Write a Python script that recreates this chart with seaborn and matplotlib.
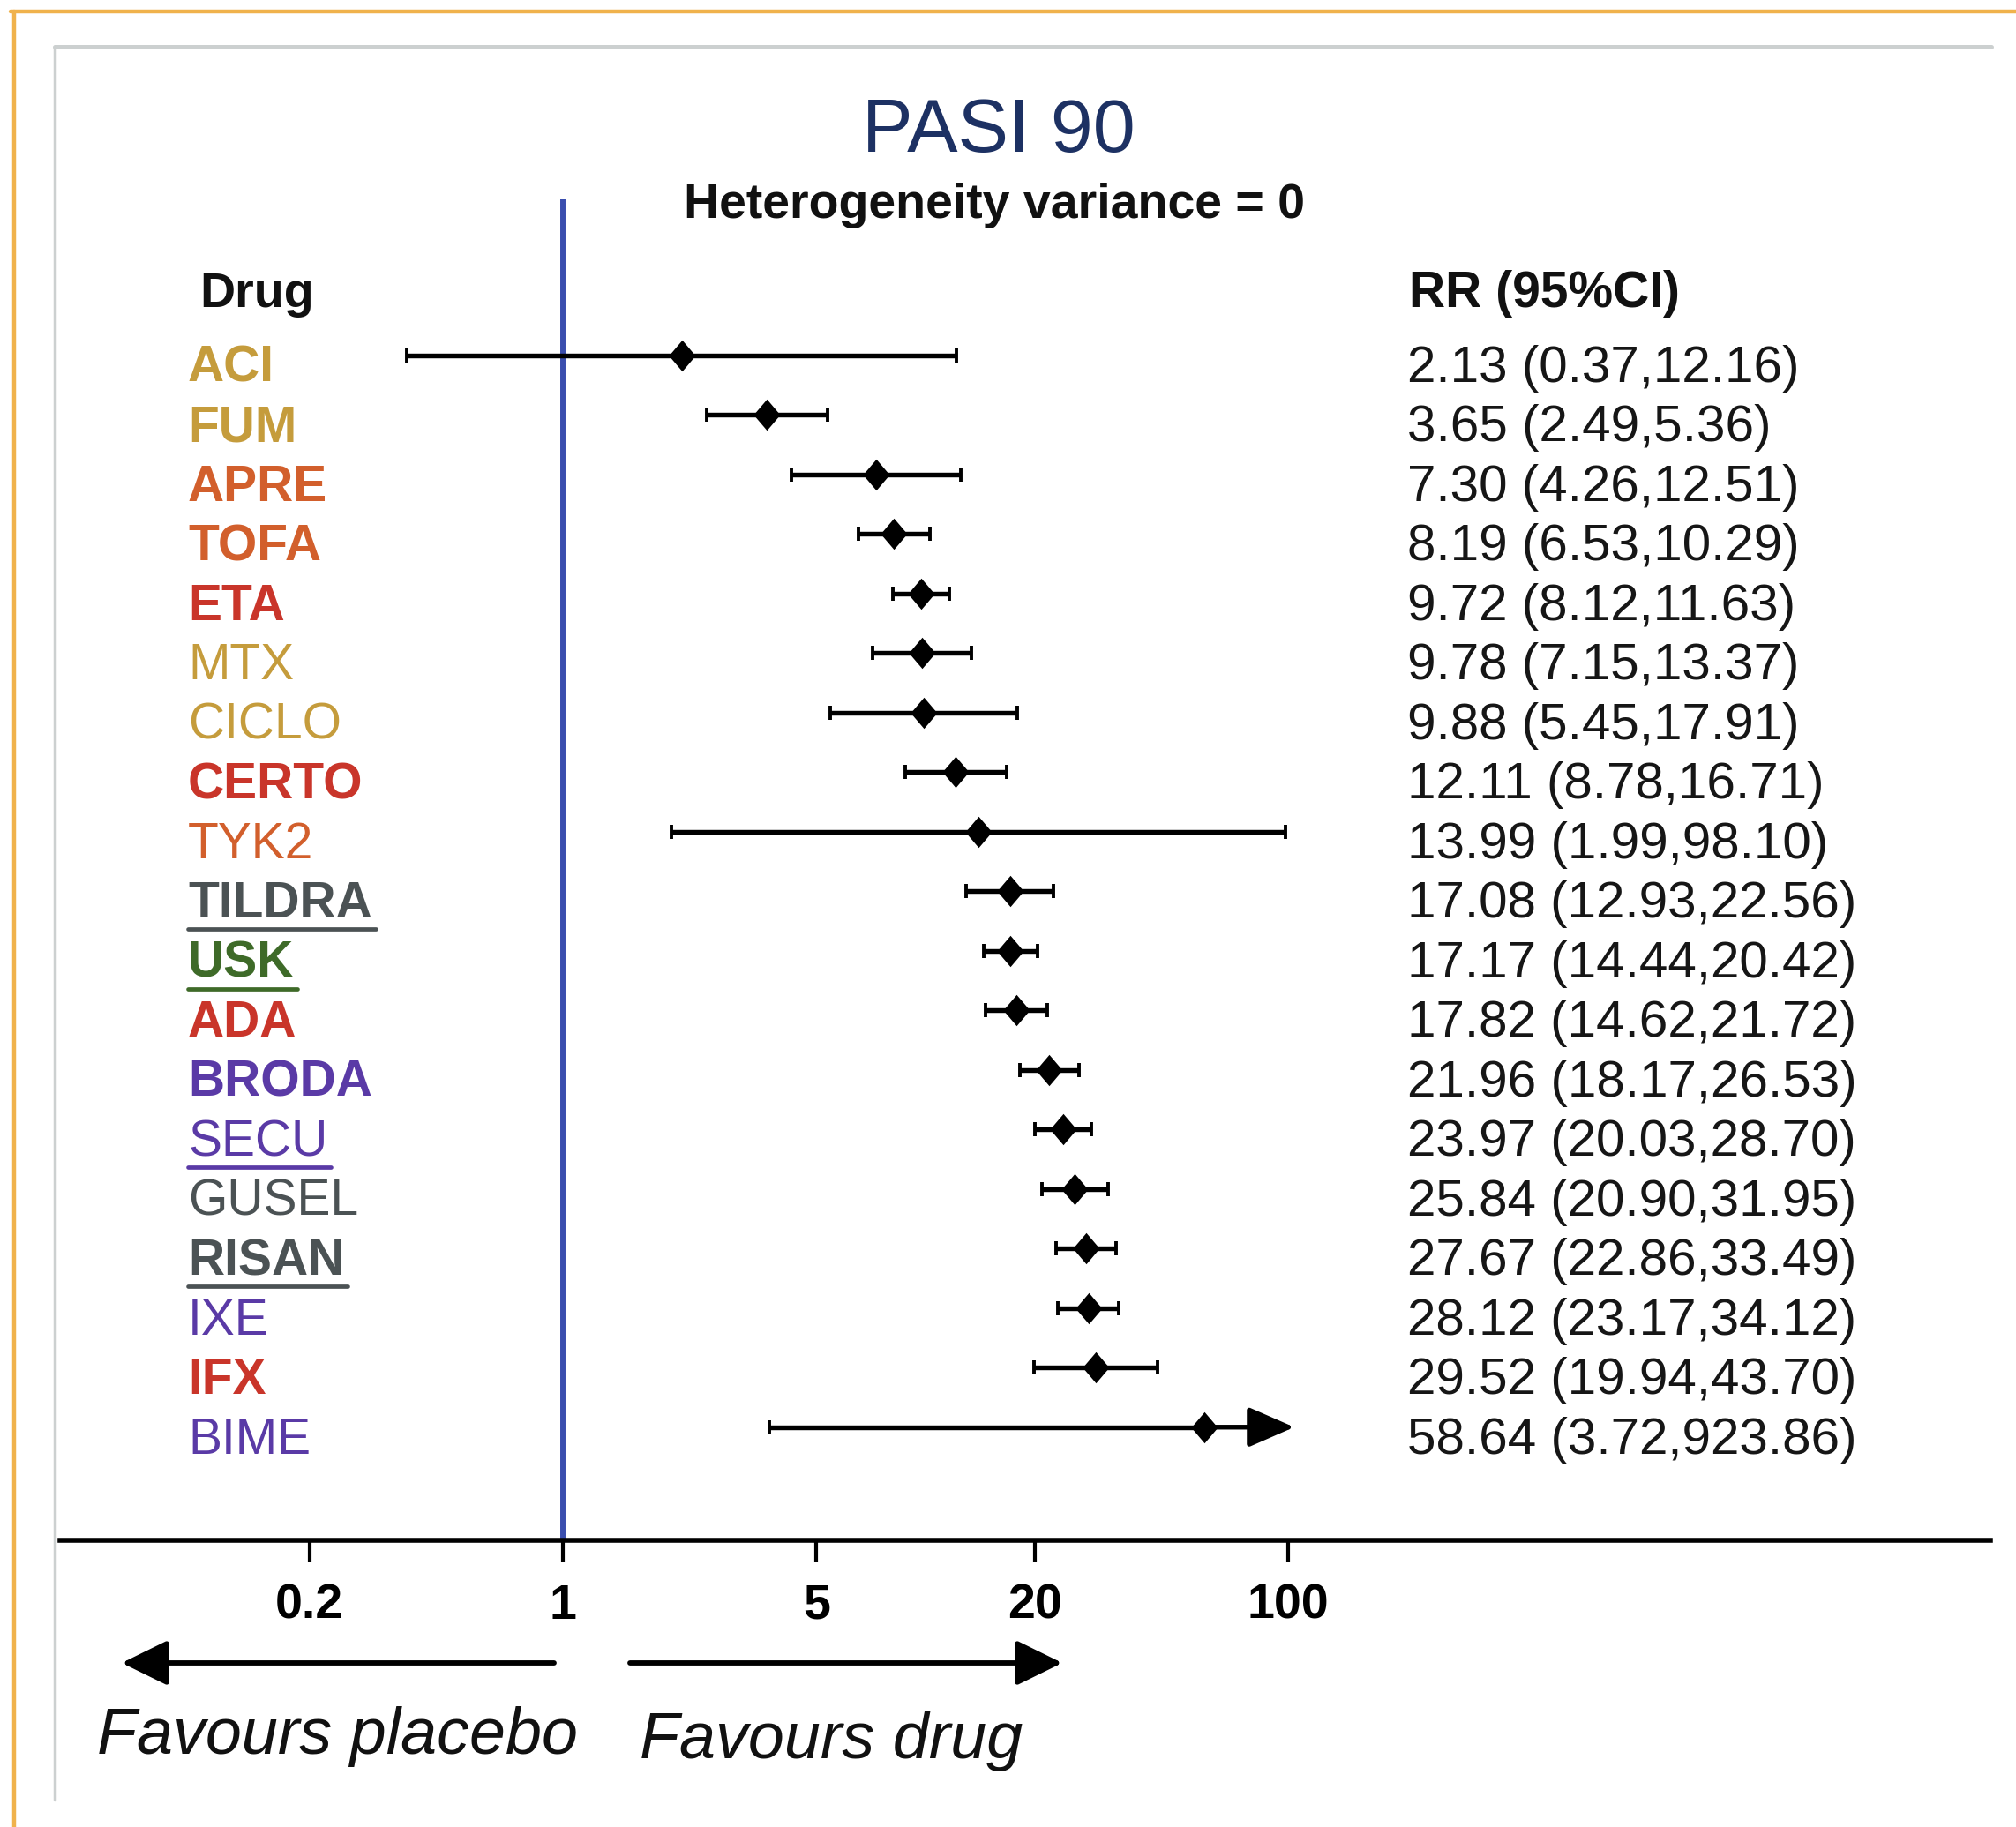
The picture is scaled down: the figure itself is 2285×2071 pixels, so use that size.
import matplotlib
matplotlib.use("Agg")
import matplotlib.pyplot as plt
import seaborn as sns
import numpy as np
import pandas as pd
from matplotlib.lines import Line2D
from matplotlib.path import Path
from matplotlib.ticker import NullLocator
from matplotlib.transforms import blended_transform_factory

# ---------------- data ----------------
drugs = ["ACI", "FUM", "APRE", "TOFA", "ETA", "MTX", "CICLO", "CERTO", "TYK2",
         "TILDRA", "USK", "ADA", "BRODA", "SECU", "GUSEL", "RISAN", "IXE", "IFX", "BIME"]
rr = [2.13, 3.65, 7.30, 8.19, 9.72, 9.78, 9.88, 12.11, 13.99,
      17.08, 17.17, 17.82, 21.96, 23.97, 25.84, 27.67, 28.12, 29.52, 58.64]
ci_low = [0.37, 2.49, 4.26, 6.53, 8.12, 7.15, 5.45, 8.78, 1.99,
          12.93, 14.44, 14.62, 18.17, 20.03, 20.90, 22.86, 23.17, 19.94, 3.72]
ci_high = [12.16, 5.36, 12.51, 10.29, 11.63, 13.37, 17.91, 16.71, 98.10,
           22.56, 20.42, 21.72, 26.53, 28.70, 31.95, 33.49, 34.12, 43.70, 923.86]

GOLD, ORANGE, RED, GRAY, GREEN, PURPLE = "#c59c3c", "#d25f2c", "#c9352a", "#4b5254", "#3e6a28", "#5a3aa6"
label_colors = [GOLD, GOLD, ORANGE, ORANGE, RED, GOLD, GOLD, RED, ORANGE,
                GRAY, GREEN, RED, PURPLE, PURPLE, GRAY, GRAY, PURPLE, RED, PURPLE]
label_weights = ["bold", "bold", "bold", "bold", "bold", "normal", "normal", "bold", "normal",
                 "bold", "bold", "bold", "bold", "normal", "normal", "bold", "normal", "bold", "normal"]
underlined = ["TILDRA", "USK", "SECU", "RISAN"]

tick_values = [0.2, 1, 5, 20, 100]
tick_labels = ["0.2", "1", "5", "20", "100"]

title = "PASI 90"
subtitle = "Heterogeneity variance = 0"
col_drug = "Drug"
col_rr = "RR (95%CI)"
favours_left = "Favours placebo"
favours_right = "Favours drug"

# ---------------- style ----------------
sns.set_theme(style="white")
plt.rcParams["font.family"] = ["Liberation Sans", "DejaVu Sans"]

W, H = 2285, 2071
fig = plt.figure(figsize=(W / 100, H / 100), dpi=100)
fig.patch.set_facecolor("white")


def fx(px):
    return px / W


def fy(py):
    return 1 - py / H


# frames
fig.add_artist(Line2D([fx(12), 1.0], [fy(13), fy(13)], color="#f0b24c", lw=3.2, transform=fig.transFigure))
fig.add_artist(Line2D([fx(16), fx(16)], [fy(13), 0.0], color="#f0b24c", lw=3.2, transform=fig.transFigure))
fig.add_artist(Line2D([fx(62), fx(2257)], [fy(53), fy(53)], color="#ccd0d0", lw=3.6, transform=fig.transFigure))
fig.add_artist(Line2D([fx(62), fx(62)], [fy(53), fy(2040)], color="#ccd0d0", lw=2.5, transform=fig.transFigure))

PX_DEC = 411.0
ax = fig.add_axes([fx(68), fy(1746), fx(2256) - fx(68), fy(226) - fy(1746)])
ax.set_facecolor("none")
ax.set_xscale("log")
ax.set_xlim(10 ** ((68 - 638) / PX_DEC), 10 ** ((2256 - 638) / PX_DEC))
ax.set_ylim(19.90, -2.62)

df = pd.DataFrame({"drug": drugs, "rr": rr, "lo": ci_low, "hi": ci_high})
df["row"] = np.arange(len(df))
x_cap = 104  # display limit for CIs (beyond it an arrow is drawn)
clip = df["hi"] > x_cap

# reference line at RR = 1
ax.axvline(1, color="#3a4eae", lw=4.3, zorder=1)

# CIs
ok = df[~clip]
ax.errorbar(ok["rr"], ok["row"], xerr=[ok["rr"] - ok["lo"], ok["hi"] - ok["rr"]],
            fmt="none", ecolor="black", elinewidth=3.9, capsize=6, capthick=2.8, zorder=2)
cl = df[clip]
ax.errorbar(cl["rr"], cl["row"], xerr=[cl["rr"] - cl["lo"], np.zeros(len(cl))],
            fmt="none", ecolor="black", elinewidth=3.9, capsize=6, capthick=2.8, zorder=2)
for _, r in cl.iterrows():
    ax.annotate("", xy=(x_cap, r["row"]), xytext=(r["rr"], r["row"]),
                arrowprops=dict(arrowstyle="-|>,head_length=0.55,head_width=0.24",
                                mutation_scale=58, color="black", lw=3.9,
                                shrinkA=0, shrinkB=0), zorder=2)

# diamonds
diamond = Path([(0, 1), (0.85, 0), (0, -1), (-0.85, 0), (0, 1)],
               [Path.MOVETO, Path.LINETO, Path.LINETO, Path.LINETO, Path.CLOSEPOLY])
sns.scatterplot(data=df, x="rr", y="row", marker=diamond, s=650, color="black",
                edgecolor="black", linewidth=0, ax=ax, zorder=3, legend=False)

# axis styling
for side in ["top", "right", "left"]:
    ax.spines[side].set_visible(False)
ax.spines["bottom"].set_linewidth(4)
ax.spines["bottom"].set_color("black")
ax.set_yticks([])
ax.set_xticks(tick_values)
ax.set_xticklabels(tick_labels, fontsize=40, fontweight="bold")
ax.xaxis.set_minor_locator(NullLocator())
ax.tick_params(axis="x", bottom=True, direction="out", length=18, width=3, pad=17, colors="black")
ax.set_xlabel("")
ax.set_ylabel("")

# titles & headers (baselines in pixel rows)
fig.text(fx(1132), fy(172), title, ha="center", va="baseline", fontsize=62, color="#1d3163")
fig.text(fx(1127), fy(247), subtitle, ha="center", va="baseline", fontsize=40, fontweight="bold", color="#111111")
fig.text(fx(226), fy(348), col_drug, ha="left", va="baseline", fontsize=40, fontweight="bold", color="#111111")
fig.text(fx(1597), fy(348), col_rr, ha="left", va="baseline", fontsize=41, fontweight="bold", color="#111111")

# row labels
trans = blended_transform_factory(fig.transFigure, ax.transData)
label_texts = []
for i, r in df.iterrows():
    t = ax.text(fx(213), r["row"] + 0.445, r["drug"], transform=trans, ha="left", va="baseline",
                fontsize=41, fontweight=label_weights[i], color=label_colors[i])
    label_texts.append(t)
    ax.text(fx(1595), r["row"] + 0.445, f"{r['rr']:.2f} ({r['lo']:.2f},{r['hi']:.2f})",
            transform=trans, ha="left", va="baseline", fontsize=42, color="#161616")

# favours arrows and texts
arrow_y = fy(1885)
fig.add_artist(matplotlib.patches.FancyArrowPatch(
    (fx(628), arrow_y), (fx(138), arrow_y), transform=fig.transFigure,
    arrowstyle="-|>,head_length=0.55,head_width=0.27", mutation_scale=58,
    color="black", lw=4.2, shrinkA=0, shrinkB=0))
fig.add_artist(matplotlib.patches.FancyArrowPatch(
    (fx(714), arrow_y), (fx(1204), arrow_y), transform=fig.transFigure,
    arrowstyle="-|>,head_length=0.55,head_width=0.27", mutation_scale=58,
    color="black", lw=4.2, shrinkA=0, shrinkB=0))
fig.text(fx(110), fy(1988), favours_left, ha="left", va="baseline", fontsize=53, style="italic", color="#111111")
fig.text(fx(725), fy(1993), favours_right, ha="left", va="baseline", fontsize=53, style="italic", color="#111111")

# underlines
fig.canvas.draw()
renderer = fig.canvas.get_renderer()
for i, t in enumerate(label_texts):
    if drugs[i] in underlined:
        bb = t.get_window_extent(renderer)
        base_disp = ax.transData.transform((1, df["row"][i] + 0.445))[1]
        y_disp = base_disp - 13
        x0, y0 = fig.transFigure.inverted().transform((bb.x0, y_disp))
        x1, _ = fig.transFigure.inverted().transform((bb.x1 + 4, y_disp))
        fig.add_artist(Line2D([x0, x1], [y0, y0], color=label_colors[i], lw=3.4,
                              transform=fig.transFigure))

fig.savefig("out.png", dpi=100, facecolor="white")
